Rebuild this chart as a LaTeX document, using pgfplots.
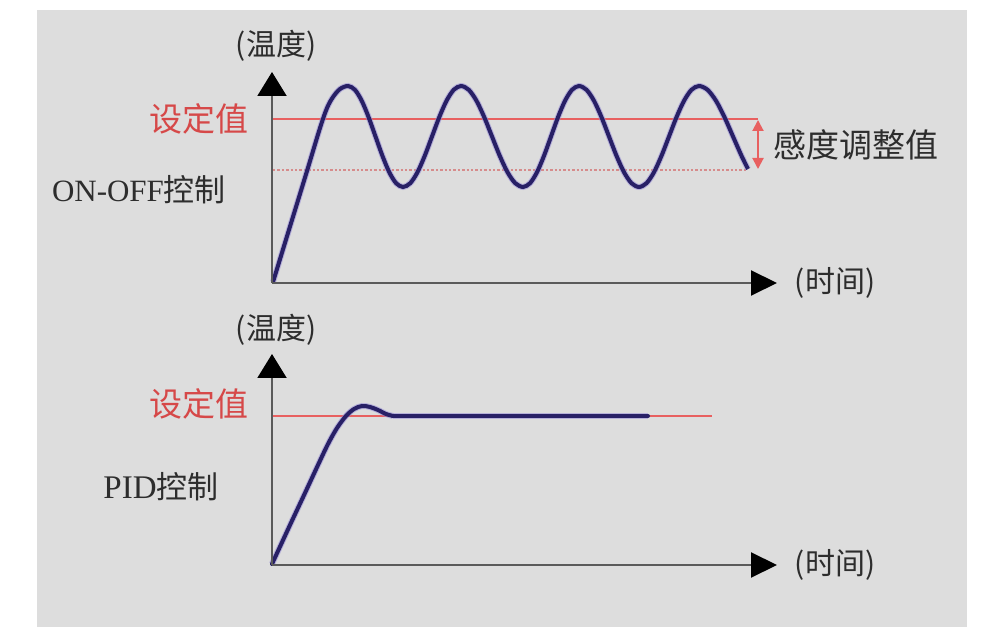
\documentclass[border=0pt]{standalone}
\usepackage{pgfplots}
\pgfplotsset{compat=1.18}
\usetikzlibrary{arrows.meta}
\usepackage{fontspec}
\setmainfont{Noto Sans CJK SC}
\newfontfamily\latinfont{Liberation Serif}
\definecolor{bg}{RGB}{221,221,221}
\definecolor{curve}{RGB}{40,32,102}
\definecolor{halo}{RGB}{150,140,215}
\definecolor{setred}{RGB}{232,96,96}
\definecolor{dotred}{RGB}{214,140,140}
\definecolor{txt}{RGB}{45,45,45}
\definecolor{redtxt}{RGB}{214,72,72}
\definecolor{axisgray}{RGB}{90,90,90}
\pgfplotstableread{
x y
273 282
290 226.5
307 171
320 128
327 108
333 97
340 89
348 86
354.9 89.8
361.75 100.8
368.6 117.2
375.5 136.5
382.4 155.8
389.25 172.2
396.1 183.2
403 187
410.25 183.2
417.5 172.2
424.75 155.8
432 136.5
439.25 117.2
446.5 100.8
453.75 89.8
461 86
468.75 89.8
476.5 100.8
484.25 117.2
492 136.5
499.75 155.8
507.5 172.2
515.25 183.2
523 187
530 183.2
537 172.2
544 155.8
551 136.5
558 117.2
565 100.8
572 89.8
579 86
586.5 89.8
594 100.8
601.5 117.2
609 136.5
616.5 155.8
624 172.2
631.5 183.2
639 187
646.5 183.2
654 172.2
661.5 155.8
669 136.5
676.5 117.2
684 100.8
691.5 89.8
699 86
707.5 89.8
716 100.8
724.5 117.2
733 136.5
741.5 155.8
748 169
}\onoff
\pgfplotstableread{
x y
272 564
290 525
305 493
318 465
328 444
337 428
346 416
354 409
362 406
370 407
378 410
386 414
393 416
}\pidrise
\pgfplotstableread{
x y
393 416
648 416
}\pidflat
\begin{document}
\begin{tikzpicture}
\begin{axis}[
  x=0.5pt, y=0.5pt,
  xmin=0, xmax=1000, ymin=0, ymax=640,
  y dir=reverse,
  hide axis, clip=false,
]
% page and panel background
\addplot[draw=none, fill=white] coordinates {(0,0) (1000,0) (1000,640) (0,640)} -- cycle;
\addplot[draw=none, fill=bg] coordinates {(37,10) (967,10) (967,627) (37,627)} -- cycle;

% ===== top panel: ON-OFF =====
\addplot[setred, line width=1pt] coordinates {(273,119) (758,119)};
\addplot[dotred, line width=0.7pt, dash pattern=on 1.2pt off 1pt] coordinates {(273,170) (748,170)};
\addplot[halo, line width=3pt, smooth, opacity=0.55] table[x=x,y=y] {\onoff};
\addplot[curve, line width=2pt, smooth] table[x=x,y=y] {\onoff};
\addplot[setred, line width=1pt, {Triangle[width=5.5pt,length=5.5pt]}-{Triangle[width=5.5pt,length=5.5pt]}] coordinates {(758,120) (758,169)};
% axes
\addplot[axisgray, line width=1pt, -{Triangle[width=14.5pt,length=12pt,color=black]}] coordinates {(272,283) (272,72)};
\addplot[axisgray, line width=1pt, -{Triangle[width=12.5pt,length=13pt,color=black]}] coordinates {(272,283) (777,283)};

% ===== bottom panel: PID =====
\addplot[setred, line width=1pt] coordinates {(273,416) (712,416)};
\addplot[halo, line width=3pt, smooth, opacity=0.55] table[x=x,y=y] {\pidrise};
\addplot[halo, line width=3pt, opacity=0.55] table[x=x,y=y] {\pidflat};
\addplot[curve, line width=2pt, smooth, line cap=round] table[x=x,y=y] {\pidrise};
\addplot[curve, line width=2pt, line cap=round] table[x=x,y=y] {\pidflat};
% axes
\addplot[axisgray, line width=1pt, -{Triangle[width=14.5pt,length=12pt,color=black]}] coordinates {(272,565) (272,354)};
\addplot[axisgray, line width=1pt, -{Triangle[width=12.5pt,length=13pt,color=black]}] coordinates {(272,565) (777,565)};

% ===== text =====
\node[txt, font=\fontsize{15}{17}\selectfont] at (axis cs:276,46) {(温度)};
\node[txt, font=\fontsize{15}{17}\selectfont] at (axis cs:276,330) {(温度)};
\node[redtxt, font=\fontsize{16.5}{18}\selectfont] at (axis cs:199,119) {设定值};
\node[redtxt, font=\fontsize{16.5}{18}\selectfont] at (axis cs:199,404) {设定值};
\node[txt, font=\fontsize{16.5}{18}\selectfont] at (axis cs:856,145) {感度调整值};
\node[txt, font=\fontsize{15.5}{18}\selectfont] at (axis cs:139,190) {{\latinfont\fontsize{15.5}{18}\selectfont ON-OFF}控制};
\node[txt, font=\fontsize{15.5}{18}\selectfont] at (axis cs:161,487) {{\latinfont\fontsize{16.5}{18}\selectfont PID}控制};
\node[txt, font=\fontsize{15}{17}\selectfont] at (axis cs:835,283) {(时间)};
\node[txt, font=\fontsize{15}{17}\selectfont] at (axis cs:835,565) {(时间)};
\end{axis}
\end{tikzpicture}
\end{document}
